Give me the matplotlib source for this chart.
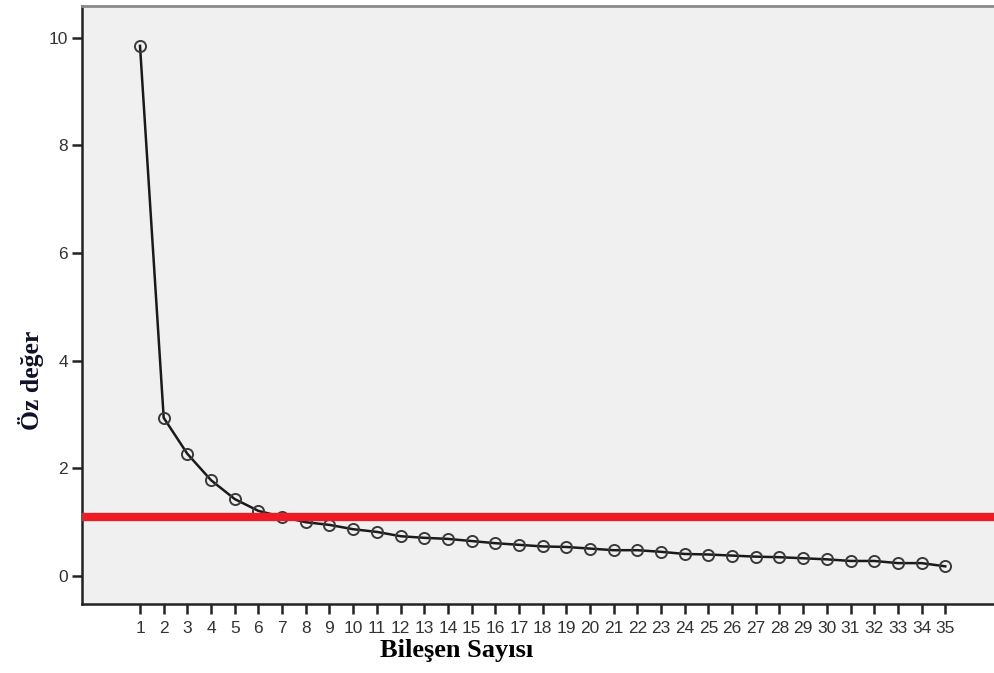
import matplotlib
matplotlib.use('Agg')
import matplotlib.pyplot as plt

# bileşen numaraları ve öz değerler
components = list(range(1, 36))
eigenvalues = [9.85, 2.94, 2.27, 1.78, 1.43, 1.21, 1.10, 1.00, 0.95, 0.87,
               0.82, 0.74, 0.71, 0.69, 0.65, 0.61, 0.58, 0.55, 0.54, 0.51,
               0.48, 0.48, 0.45, 0.41, 0.40, 0.38, 0.36, 0.35, 0.33, 0.31,
               0.28, 0.28, 0.24, 0.24, 0.18]
cutoff = 1.1
y_ticks = [0, 2, 4, 6, 8, 10]

fig = plt.figure(figsize=(9.95, 6.73), dpi=100)
ax = fig.add_axes([0.0824, 0.1025, 0.9176, 0.8885])
ax.set_facecolor('#f0f0f0')

ax.plot(components, eigenvalues, color='#1a1a1a', linewidth=1.8, marker='o',
        markersize=8, markerfacecolor='none', markeredgecolor='#3a3a3a',
        markeredgewidth=1.4, zorder=3)
ax.axhline(cutoff, color='#ed1c24', linewidth=6, zorder=4)

ax.set_xlim(-1.45, 37.1)
ax.set_ylim(-0.52, 10.59)
ax.set_xticks(components)
ax.set_yticks(y_ticks)

for s in ['left', 'bottom']:
    ax.spines[s].set_color('#222222')
    ax.spines[s].set_linewidth(1.8)
ax.spines['top'].set_color('#8a8a8a')
ax.spines['top'].set_linewidth(2)
ax.spines['right'].set_visible(False)

ax.tick_params(direction='out', length=7, width=1.8, color='#222222',
               labelsize=12.5, labelcolor='#333333', pad=3)
ax.tick_params(axis='x', pad=5)
for lbl in ax.get_xticklabels() + ax.get_yticklabels():
    lbl.set_family('Liberation Sans')

fig.text(0.459, 0.016, 'Bileşen Sayısı', family='Liberation Serif',
         fontweight='bold', fontsize=19, ha='center', va='bottom')
fig.text(0.031, 0.435, 'Öz değer', family='Liberation Serif',
         fontweight='bold', fontsize=18.5, ha='center', va='center',
         rotation=90, color='#101028')

fig.savefig('out.png', dpi=100)
